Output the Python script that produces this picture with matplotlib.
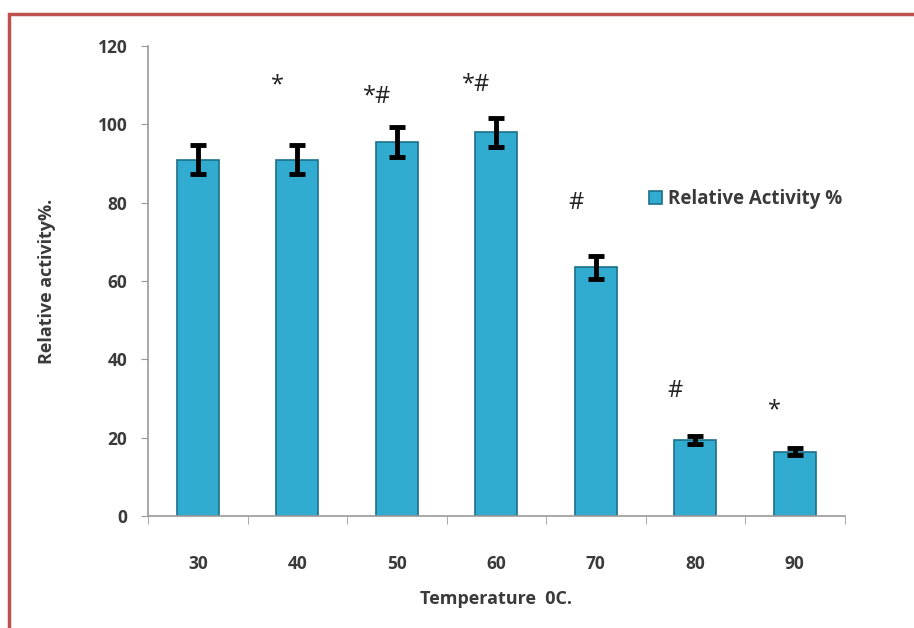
import matplotlib.pyplot as plt
import matplotlib.patches as mpatches
import numpy as np

temps = ['30', '40', '50', '60', '70', '80', '90']
activity = [91, 91, 95.5, 98, 63.5, 19.5, 16.5]
err = [3.8, 3.8, 3.8, 3.7, 3.0, 1.0, 1.0]
marks = ['', '*', '*#', '*#', '#', '#', '*']
mark_y = [0, 110, 107, 110, 80, 32, 27]

plt.rcParams['font.family'] = ['Open Sans', 'DejaVu Sans']
txt = '#3a3a3a'

fig = plt.figure(figsize=(9.14, 6.28), dpi=100)
ax = fig.add_axes([0.162, 0.178, 0.762, 0.749])

# red frame round the chart
fig.patches.append(mpatches.Rectangle((0.010, -0.05), 1.2, 1.028, transform=fig.transFigure,
                                      fill=False, edgecolor='#c0504d', linewidth=2.5))

x = np.arange(len(temps))
ax.bar(x, activity, width=0.42, color='#31abcf', edgecolor='#1d7089', linewidth=1.2,
       label='Relative Activity %', zorder=2)
ax.errorbar(x, activity, yerr=err, fmt='none', ecolor='black', elinewidth=3.5,
            capsize=6, capthick=3.5, zorder=3)

for i, m in enumerate(marks):
    if m:
        ax.text(i - 0.2, mark_y[i], m, ha='center', va='center', fontsize=17, color='#222222')

ax.set_xlim(-0.5, len(temps) - 0.5)
ax.set_ylim(0, 120)
ax.set_yticks(range(0, 121, 20))
ax.set_xticks(x)
ax.set_xticklabels(temps)
ax.set_xticks(np.arange(-0.5, len(temps)), minor=True)
ax.tick_params(axis='x', which='major', length=0, pad=28)
ax.tick_params(axis='x', which='minor', length=6, color='#9a9a9a')
ax.tick_params(axis='y', length=5, color='#9a9a9a', pad=10)
for lab in ax.get_xticklabels() + ax.get_yticklabels():
    lab.set_fontweight('bold')
    lab.set_fontsize(12.5)
    lab.set_color(txt)

for s in ['top', 'right']:
    ax.spines[s].set_visible(False)
for s in ['left', 'bottom']:
    ax.spines[s].set_color('#9a9a9a')
    ax.spines[s].set_linewidth(1.2)

ax.set_xlabel('Temperature  0C.', fontsize=13, fontweight='bold', color=txt, labelpad=12)
ax.set_ylabel('Relative activity%.', fontsize=13, fontweight='bold', color=txt, labelpad=30)

ax.legend(loc='center left', bbox_to_anchor=(0.695, 0.675), frameon=False, handlelength=0.7,
          handleheight=0.7, handletextpad=0.3, prop={'weight': 'bold', 'size': 13.5},
          labelcolor=txt)

fig.savefig('out.png', dpi=100)
